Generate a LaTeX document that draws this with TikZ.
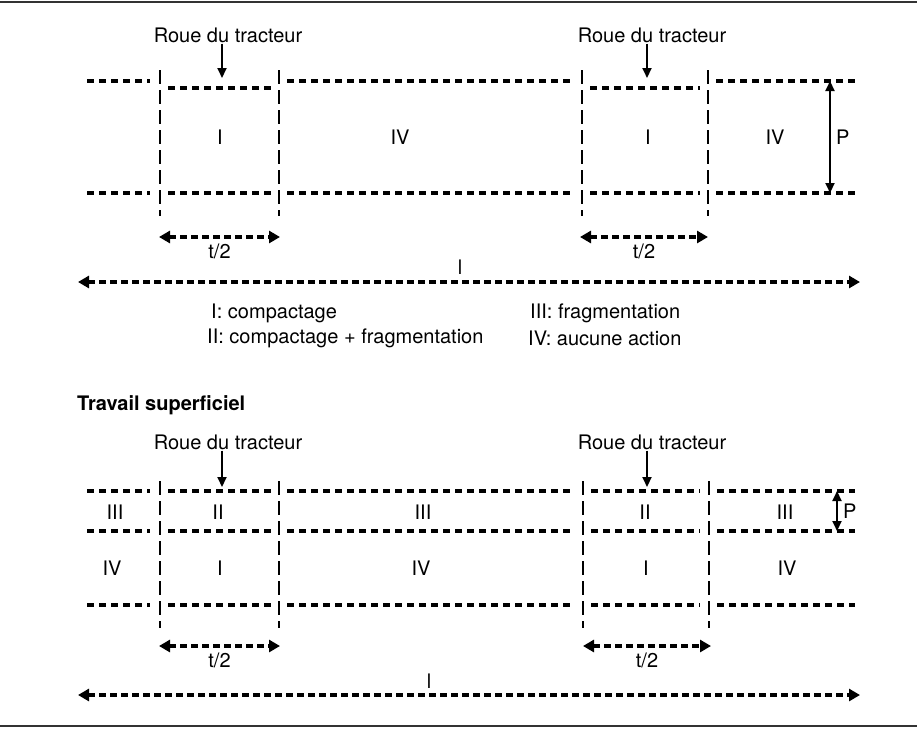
\documentclass[tikz,border=0pt]{standalone}
\usepackage{fontspec}
\setsansfont{TeX Gyre Heros}
\usetikzlibrary{arrows.meta,positioning}

\begin{document}
\begin{tikzpicture}[
  x=1pt, y=-1pt,
  every node/.style={font=\sffamily\fontsize{20}{24}\selectfont, inner sep=1pt},
  layer/.style={line width=4pt, dash pattern=on 7pt off 5pt},
  wall/.style={line width=2pt, dash pattern=on 14pt off 6pt},
  wheel/.style={-{Triangle[length=10pt,width=9pt]}, line width=2pt},
  depth/.style={{Triangle[length=10pt,width=9pt]}-{Triangle[length=10pt,width=9pt]}, line width=2pt},
  dim/.style={{Triangle[length=11pt,width=12pt]}-{Triangle[length=11pt,width=12pt]}, line width=4pt, dash pattern=on 7pt off 4pt},
  edge/.style={line width=2pt, black!80}]
\useasboundingbox (0,0) rectangle (917,728);
\draw[edge] (0,2) -- (917,2);
\draw[edge] (0,726) -- (917,726);

% labour profond
\node (roueA) at (228,35) {Roue du tracteur};
\node (roueB) at (652,35) {Roue du tracteur};
\coordinate (tipA) at (222,78);
\coordinate (tipB) at (647,78);
\draw[wheel] (roueA.south -| tipA) -- (tipA);
\draw[wheel] (roueB.south -| tipB) -- (tipB);
\foreach \y in {81,193} {
  \draw[layer] (87,\y) -- (150,\y);
  \draw[layer] (287,\y) -- (574,\y);
  \draw[layer] (716,\y) -- (855,\y);
}
\foreach \y in {88,193} {
  \draw[layer] (168,\y) -- (271,\y);
  \draw[layer] (590,\y) -- (700,\y);
}
\foreach \x in {160,279,582,708} \draw[wall] (\x,70) -- (\x,216);
\node (zA1) at (220,137) {I};
\node (zA2) at (400,137) {IV};
\node (zA3) at (648,137) {I};
\node (zA4) at (775,137) {IV};
\coordinate (pA1) at (830,81);
\coordinate (pA2) at (830,193);
\draw[depth] (pA1) -- node[right=4pt] (pA) {P} (pA2);
\coordinate (tA1) at (159,237);
\coordinate (tA2) at (280,237);
\coordinate (tA3) at (580,237);
\coordinate (tA4) at (708,237);
\draw[dim] (tA1) -- node[below=4pt] (hA1) {t/2} (tA2);
\draw[dim] (tA3) -- node[below=4pt] (hA2) {t/2} (tA4);
\coordinate (lA1) at (78,282);
\coordinate (lA2) at (860,282);
\draw[dim] (lA1) -- (lA2);
\node (lA) at (460,267) {l};

% legende
\node[anchor=west] (legI) at (210,313) {I: compactage};
\node[anchor=west] (legII) at (206,338) {II: compactage + fragmentation};
\node[anchor=west] (legIII) at (529,313) {III: fragmentation};
\node[anchor=west] (legIV) at (527,338) {IV: aucune action};

% travail superficiel
\node[anchor=west, font=\sffamily\bfseries\fontsize{20}{24}\selectfont] (titre) at (76,405) {Travail superficiel};
\node (roueC) at (228,442) {Roue du tracteur};
\node (roueD) at (652,442) {Roue du tracteur};
\coordinate (tipC) at (222,487);
\coordinate (tipD) at (647,487);
\draw[wheel] (roueC.south -| tipC) -- (tipC);
\draw[wheel] (roueD.south -| tipD) -- (tipD);
\foreach \y in {491,531,605} {
  \draw[layer] (87,\y) -- (150,\y);
  \draw[layer] (168,\y) -- (271,\y);
  \draw[layer] (287,\y) -- (574,\y);
  \draw[layer] (591,\y) -- (700,\y);
  \draw[layer] (717,\y) -- (855,\y);
}
\foreach \x in {160,279,583,709} \draw[wall] (\x,481) -- (\x,628);
\node (zB1) at (115,512) {III};
\node (zB2) at (218,512) {II};
\node (zB3) at (423,512) {III};
\node (zB4) at (645,512) {II};
\node (zB5) at (785,512) {III};
\node (zC1) at (112,568) {IV};
\node (zC2) at (220,568) {I};
\node (zC3) at (421,568) {IV};
\node (zC4) at (646,568) {I};
\node (zC5) at (787,568) {IV};
\coordinate (pB1) at (837,491);
\coordinate (pB2) at (837,531);
\draw[depth] (pB1) -- node[right=4pt] (pB) {P} (pB2);
\coordinate (tB1) at (159,646);
\coordinate (tB2) at (280,646);
\coordinate (tB3) at (583,646);
\coordinate (tB4) at (711,646);
\draw[dim] (tB1) -- node[below=4pt] (hB1) {t/2} (tB2);
\draw[dim] (tB3) -- node[below=4pt] (hB2) {t/2} (tB4);
\coordinate (lB1) at (78,695);
\coordinate (lB2) at (860,695);
\draw[dim] (lB1) -- (lB2);
\node (lB) at (429,681) {l};
\end{tikzpicture}
\end{document}
